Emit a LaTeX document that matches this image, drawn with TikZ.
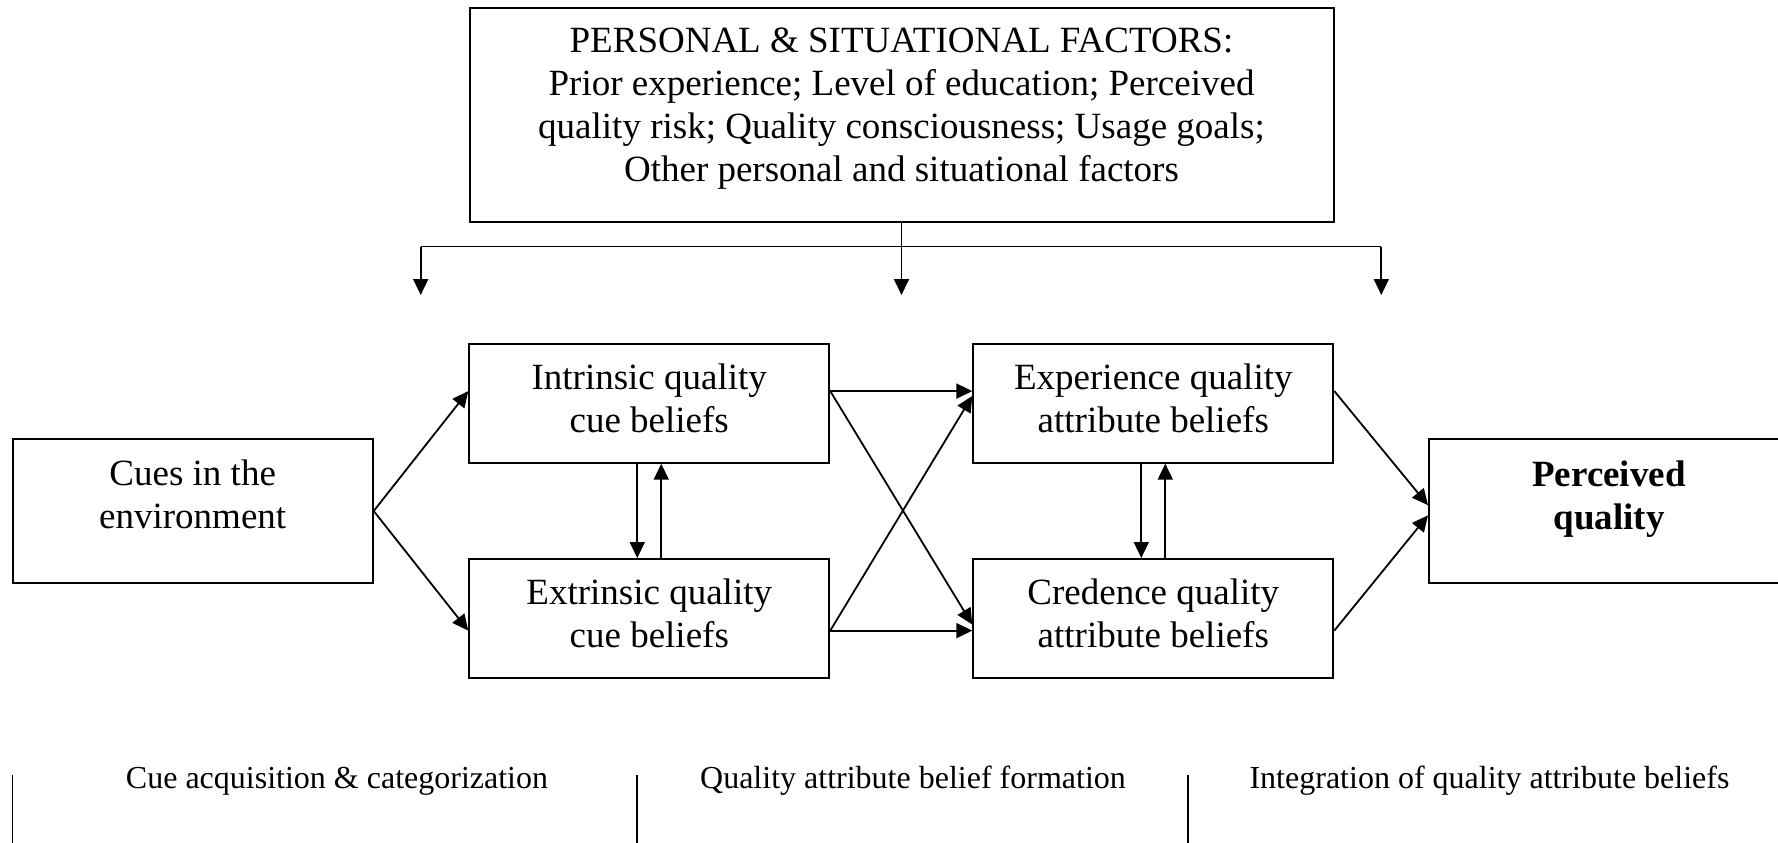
\documentclass[tikz,border=0pt]{standalone}
\usepackage{fontspec}
\setmainfont{Liberation Serif}
\usetikzlibrary{arrows.meta,calc}
\begin{document}
\begin{tikzpicture}[x=1pt,y=-1pt,
  box/.style={draw, line width=2pt, minimum width=360pt, inner sep=0pt},
  txt/.style={align=center, font=\fontsize{37}{43}\selectfont, inner sep=0pt},
  lbl/.style={font=\fontsize{32}{38}\selectfont, inner sep=0pt},
  arr/.style={line width=1.8pt, -{Triangle[length=16pt,width=15pt]}},
  ln/.style={line width=1.8pt}]
\useasboundingbox (0,0) rectangle (1778,843);
\clip (0,0) rectangle (1778,843);
% boxes
\node[box, minimum width=864pt, minimum height=214pt] (top) at (901.5,115) {};
\node[txt] (topt) at (901.5,109) {PERSONAL \& SITUATIONAL FACTORS:\\Prior experience; Level of education; Perceived\\quality risk; Quality consciousness; Usage goals;\\Other personal and situational factors};
\node[box, minimum height=144pt] (cues) at (192.7,511) {};
\node[txt] (cuest) at (192.7,494) {Cues in the\\environment};
\node[box, minimum height=119pt] (intr) at (649.25,403.2) {};
\node[txt] (intrt) at (649.25,398) {Intrinsic quality\\cue beliefs};
\node[box, minimum height=119pt] (extr) at (649.25,618.5) {};
\node[txt] (extrt) at (649.25,613.5) {Extrinsic quality\\cue beliefs};
\node[box, minimum height=119pt] (exp) at (1153.3,403.2) {};
\node[txt] (expt) at (1153.3,398) {Experience quality\\attribute beliefs};
\node[box, minimum height=119pt] (cred) at (1153.3,618.5) {};
\node[txt] (credt) at (1153.3,613.5) {Credence quality\\attribute beliefs};
\node[box, minimum height=144pt] (perc) at (1609,511) {};
\node[txt, font=\fontsize{37}{43}\selectfont\bfseries] (perct) at (1609,499.5) {Perceived\\quality};
% top bracket
\coordinate (bl) at (420.7,246.5);
\coordinate (br) at (1381.3,246.5);
\coordinate (bm) at (top.south |- bl);
\coordinate (t1) at (420.7,295);
\coordinate (t2) at (901.5,295);
\coordinate (t3) at (1381.3,295);
\draw[ln] (top.south) -- (bm);
\draw[ln] (bl) -- (br);
\draw[arr] (bl) -- (t1);
\draw[arr] (bm) -- (t2);
\draw[arr] (br) -- (t3);
% cues to beliefs
\draw[arr] (cues.east) -- ($(intr.north west)!0.4!(intr.south west)$);
\draw[arr] (cues.east) -- ($(extr.north west)!0.6!(extr.south west)$);
% cue beliefs to attribute beliefs
\draw[arr] ($(intr.north east)!0.4!(intr.south east)$) -- ($(exp.north west)!0.4!(exp.south west)$);
\draw[arr] ($(intr.north east)!0.4!(intr.south east)$) -- ($(cred.north west)!0.55!(cred.south west)$);
\draw[arr] ($(extr.north east)!0.6!(extr.south east)$) -- ($(cred.north west)!0.6!(cred.south west)$);
\draw[arr] ($(extr.north east)!0.6!(extr.south east)$) -- ($(exp.north west)!0.44!(exp.south west)$);
% vertical pairs
\draw[arr] ($(intr.south)+(-12,0)$) -- ($(extr.north)+(-12,0)$);
\draw[arr] ($(extr.north)+(12,0)$) -- ($(intr.south)+(12,0)$);
\draw[arr] ($(exp.south)+(-12,0)$) -- ($(cred.north)+(-12,0)$);
\draw[arr] ($(cred.north)+(12,0)$) -- ($(exp.south)+(12,0)$);
% to perceived quality
\draw[arr] ($(exp.north east)!0.4!(exp.south east)$) -- ($(perc.north west)!0.46!(perc.south west)$);
\draw[arr] ($(cred.north east)!0.6!(cred.south east)$) -- ($(perc.north west)!0.53!(perc.south west)$);
% bottom stages
\coordinate (s1a) at (12.5,775); \coordinate (s1b) at (12.5,843);
\coordinate (s2a) at (637,775);  \coordinate (s2b) at (637,843);
\coordinate (s3a) at (1188,775); \coordinate (s3b) at (1188,843);
\draw[ln] (s1a) -- (s1b);
\draw[ln] (s2a) -- (s2b);
\draw[ln] (s3a) -- (s3b);
\node[lbl] (l1) at (337,781) {Cue acquisition \& categorization};
\node[lbl] (l2) at (913,781) {Quality attribute belief formation};
\node[lbl] (l3) at (1489.5,781) {Integration of quality attribute beliefs};
\end{tikzpicture}
\end{document}
